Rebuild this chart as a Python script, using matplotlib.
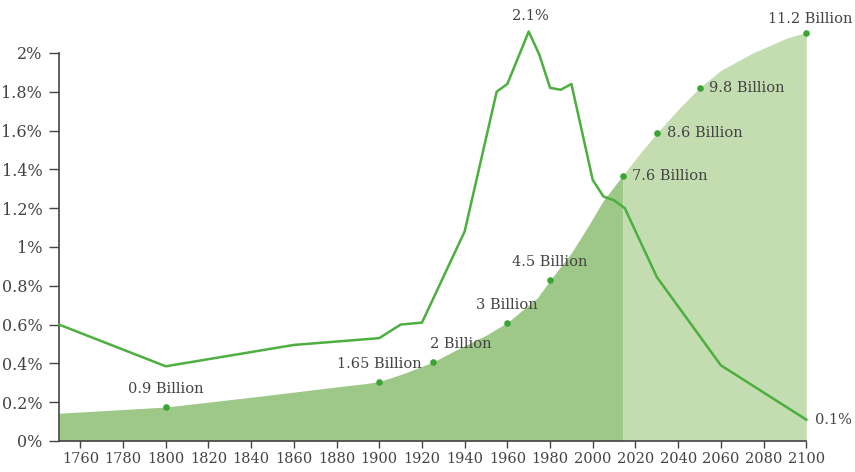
import matplotlib.pyplot as plt

# annual growth rate of world population (%)
rate_years = [1750, 1800, 1860, 1900, 1910, 1920, 1940, 1955, 1960, 1970,
              1975, 1980, 1985, 1990, 2000, 2005, 2010, 2015, 2030, 2060, 2100]
rate_vals = [0.60, 0.385, 0.495, 0.53, 0.60, 0.61, 1.08, 1.80, 1.84, 2.11,
             1.99, 1.82, 1.81, 1.84, 1.345, 1.26, 1.24, 1.20, 0.845, 0.39, 0.11]

# population curve, drawn on the same axis scale
pop_years = [1750, 1800, 1842, 1888, 1893, 1900, 1912, 1925, 1939, 1950, 1960,
             1974, 1980, 1990, 1998, 2005, 2014]
pop_height = [0.143, 0.175, 0.228, 0.289, 0.295, 0.306, 0.35, 0.406, 0.486, 0.545,
              0.61, 0.737, 0.828, 0.97, 1.11, 1.24, 1.368]
proj_years = [2014, 2022, 2030, 2041, 2050, 2060, 2075, 2091, 2100]
proj_height = [1.368, 1.48, 1.586, 1.72, 1.82, 1.91, 2.0, 2.077, 2.105]

# labelled population points
mark_years = [1800, 1900, 1925, 1960, 1980, 2014, 2030, 2050, 2100]
mark_height = [0.175, 0.306, 0.406, 0.61, 0.828, 1.368, 1.586, 1.82, 2.105]
mark_labels = ["0.9 Billion", "1.65 Billion", "2 Billion", "3 Billion", "4.5 Billion",
               "7.6 Billion", "8.6 Billion", "9.8 Billion", "11.2 Billion"]

dark_fill = "#9dc888"
light_fill = "#c3ddb0"
line_col = "#4caf3f"
dot_col = "#3aa535"
txt_col = "#444444"

plt.rcParams["font.family"] = ["DejaVu Serif"]

fig = plt.figure(figsize=(8.55, 4.72), dpi=100)
ax = fig.add_axes([0.069, 0.0657, 0.874, 0.925])

ax.fill_between(pop_years, 0, pop_height, color=dark_fill, lw=0)
ax.fill_between(proj_years, 0, proj_height, color=light_fill, lw=0)

ax.plot(rate_years, rate_vals, color=line_col, lw=1.8, clip_on=False, zorder=3)
ax.scatter(mark_years, mark_height, s=14, color=dot_col, zorder=4, clip_on=False)

fs = 10.5
for yr, h, lab in zip(mark_years, mark_height, mark_labels):
    if yr in (1800, 1900, 1960, 1980):
        ax.annotate(lab, (yr, h), xytext=(0, 8), textcoords="offset points",
                    ha="center", va="bottom", fontsize=fs, color=txt_col)
    elif yr == 1925:
        ax.annotate(lab, (yr, h), xytext=(-2, 8), textcoords="offset points",
                    ha="left", va="bottom", fontsize=fs, color=txt_col)
    elif yr == 2100:
        ax.annotate(lab, (yr, h), xytext=(3, 5), textcoords="offset points",
                    ha="center", va="bottom", fontsize=fs, color=txt_col)
    else:
        ax.annotate(lab, (yr, h), xytext=(7, 0), textcoords="offset points",
                    ha="left", va="center", fontsize=fs, color=txt_col)

ax.annotate("2.1%", (1970, 2.11), xytext=(1, 6), textcoords="offset points",
            ha="center", va="bottom", fontsize=fs, color=txt_col)
ax.annotate("0.1%", (2100, 0.11), xytext=(6, 0), textcoords="offset points",
            ha="left", va="center", fontsize=fs, color=txt_col)

ax.set_xlim(1750, 2100)
ax.set_ylim(0, 2.25)
ax.set_xticks(range(1760, 2101, 20))
yt = [0, 0.2, 0.4, 0.6, 0.8, 1.0, 1.2, 1.4, 1.6, 1.8, 2.0]
ax.set_yticks(yt)
ax.set_yticklabels(["0%", "0.2%", "0.4%", "0.6%", "0.8%", "1%", "1.2%", "1.4%",
                    "1.6%", "1.8%", "2%"])
ax.spines["top"].set_visible(False)
ax.spines["right"].set_visible(False)
ax.spines["left"].set_bounds(0, 2)
for s in ("left", "bottom"):
    ax.spines[s].set_color("#444444")
    ax.spines[s].set_linewidth(1.2)
ax.tick_params(axis="y", length=7, width=1, color="#444444", labelsize=11.5, labelcolor=txt_col, pad=5)
ax.tick_params(axis="x", length=5, width=1, color="#444444", labelsize=10.5, labelcolor=txt_col, pad=3)

fig.savefig("out.png", dpi=100)
